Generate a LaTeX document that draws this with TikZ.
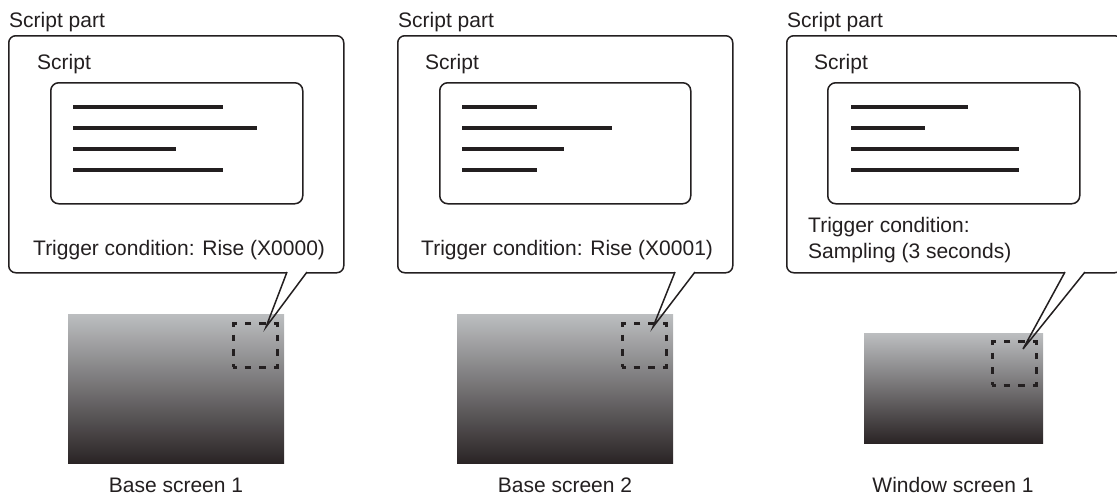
\documentclass[tikz,border=0pt]{standalone}
\usepackage{fontspec}
\setmainfont{Liberation Sans}
\usetikzlibrary{positioning}
\definecolor{ink}{HTML}{231F20}
\definecolor{scrtop}{HTML}{BCBEC0}
\definecolor{scrbot}{HTML}{2A2425}
\tikzset{
  lbl/.style={inner sep=0pt, anchor=base west, text=ink, font=\fontsize{21}{26}\selectfont},
  caplbl/.style={inner sep=0pt, anchor=base, text=ink, font=\fontsize{21}{26}\selectfont},
  outerbox/.style={draw=ink, line width=1.5pt, rounded corners=7pt, fill=white, anchor=north west, inner sep=0pt},
  innerbox/.style={draw=ink, line width=1.5pt, rounded corners=8pt, anchor=north west, inner sep=0pt},
  scrbox/.style={top color=scrtop, bottom color=scrbot, draw=none, anchor=north west, inner sep=0pt},
  dashbox/.style={draw=ink, line width=2.5pt, dash pattern=on 6.75pt off 7.92pt, dash phase=3.375pt, anchor=north west, inner sep=0pt},
  txtline/.style={draw=ink, line width=4pt},
  tailline/.style={draw=ink, line width=1.5pt},
}
\begin{document}
\begin{tikzpicture}[x=1pt,y=-1pt]
\useasboundingbox (0,0) rectangle (1117,498);

% ---------- Panel 1 ----------
\node[lbl] (sp1) at (9,27) {Script part};
\node[outerbox, minimum width=335pt, minimum height=237pt] (out1) at (8,35) {};
\node[lbl] (s1) at (37,69) {Script};
\node[innerbox, minimum width=252pt, minimum height=121pt] (in1) at (50,82) {};
\draw[txtline] (73,107) -- (223,107);
\draw[txtline] (73,128) -- (257,128);
\draw[txtline] (73,149) -- (176,149);
\draw[txtline] (73,170) -- (223,170);
\node[lbl] (t1) at (33,255) {Trigger condition: Rise (X0000)};
\coordinate (a1) at (287,272);
\coordinate (b1) at (307,272);
\coordinate (p1) at (266,327);
\fill[white] (a1) -- (p1) -- (b1) -- cycle;
\node[scrbox, minimum width=216pt, minimum height=149pt] (scr1) at (68,314) {};
\node[dashbox, minimum width=44pt, minimum height=44pt] (dz1) at (232,322) {};
\draw[tailline] (a1) -- (p1) -- (b1);
\node[caplbl] (c1) at (176,492) {Base screen 1};

% ---------- Panel 2 ----------
\node[lbl] (sp2) at (398,27) {Script part};
\node[outerbox, minimum width=335pt, minimum height=237pt] (out2) at (397,35) {};
\node[lbl] (s2) at (425,69) {Script};
\node[innerbox, minimum width=251pt, minimum height=121pt] (in2) at (439,82) {};
\draw[txtline] (462,107) -- (537,107);
\draw[txtline] (462,128) -- (612,128);
\draw[txtline] (462,149) -- (564,149);
\draw[txtline] (462,170) -- (537,170);
\node[lbl] (t2) at (421,255) {Trigger condition: Rise (X0001)};
\coordinate (a2) at (675,272);
\coordinate (b2) at (695,272);
\coordinate (p2) at (653,327);
\fill[white] (a2) -- (p2) -- (b2) -- cycle;
\node[scrbox, minimum width=216pt, minimum height=149pt] (scr2) at (457,314) {};
\node[dashbox, minimum width=44pt, minimum height=44pt] (dz2) at (621,322) {};
\draw[tailline] (a2) -- (p2) -- (b2);
\node[caplbl] (c2) at (565,492) {Base screen 2};

% ---------- Panel 3 ----------
\node[lbl] (sp3) at (787,27) {Script part};
\node[outerbox, minimum width=335pt, minimum height=237pt] (out3) at (786,35) {};
\node[lbl] (s3) at (814,69) {Script};
\node[innerbox, minimum width=252pt, minimum height=121pt] (in3) at (827,82) {};
\draw[txtline] (851,107) -- (968,107);
\draw[txtline] (851,128) -- (925,128);
\draw[txtline] (851,149) -- (1019,149);
\draw[txtline] (851,170) -- (1019,170);
\node[lbl] (t3a) at (808,232) {Trigger condition:};
\node[lbl] (t3b) at (808,258) {Sampling (3 seconds)};
\coordinate (a3) at (1065,272);
\coordinate (b3) at (1085,272);
\coordinate (p3) at (1023,349);
\fill[white] (a3) -- (p3) -- (b3) -- cycle;
\node[scrbox, minimum width=179pt, minimum height=110pt] (scr3) at (864,333) {};
\node[dashbox, minimum width=44pt, minimum height=44pt] (dz3) at (991,340) {};
\draw[tailline] (a3) -- (p3) -- (b3);
\node[caplbl] (c3) at (953,492) {Window screen 1};
\end{tikzpicture}
\end{document}
